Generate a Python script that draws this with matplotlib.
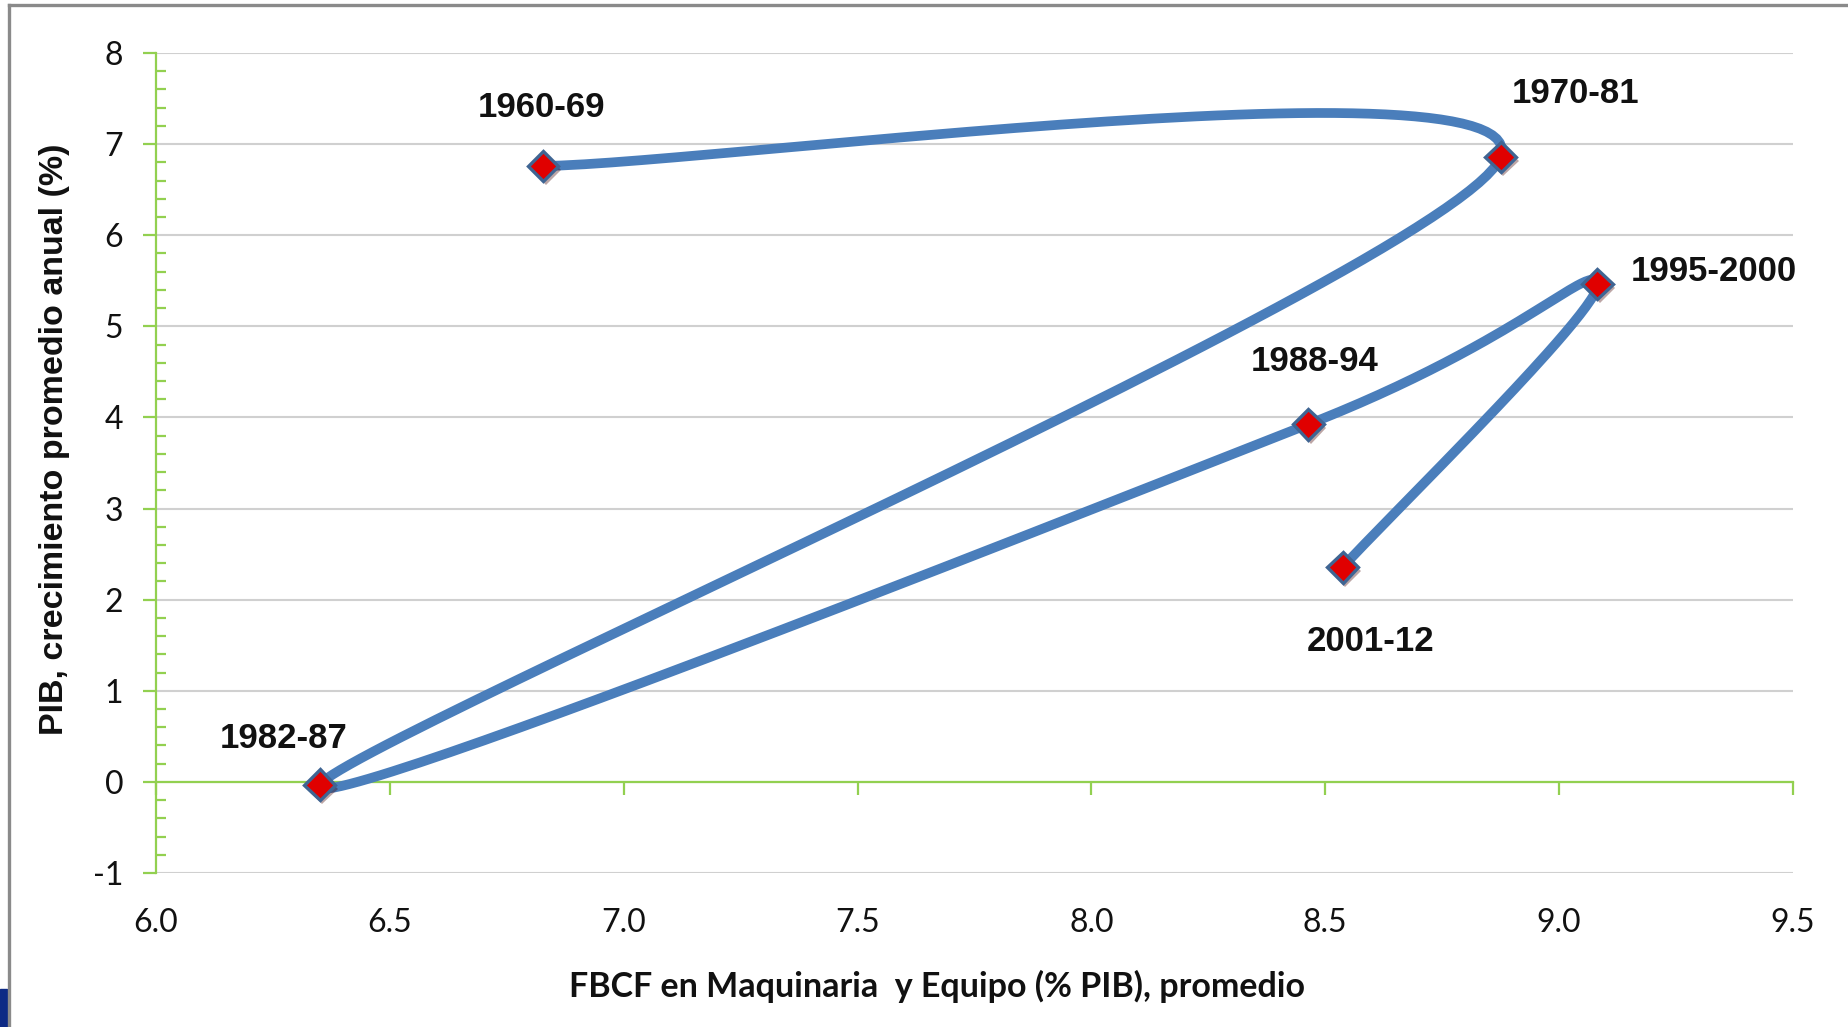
import numpy as np
import matplotlib.pyplot as plt
import matplotlib.patheffects as pe
from matplotlib.lines import Line2D
from matplotlib.patches import Rectangle
from matplotlib.ticker import MultipleLocator

# periodos y promedios: FBCF en maquinaria y equipo vs crecimiento del PIB
periodos = ['1960-69', '1970-81', '1982-87', '1988-94', '1995-2000', '2001-12']
fbcf_maq = [6.828, 8.875, 6.350, 8.464, 9.082, 8.537]
pib_crec = [6.76, 6.86, -0.03, 3.925, 5.465, 2.355]

x_ticks = [6.0, 6.5, 7.0, 7.5, 8.0, 8.5, 9.0, 9.5]
y_ticks = [-1, 0, 1, 2, 3, 4, 5, 6, 7, 8]

# desplazamiento de cada etiqueta respecto a su punto (pixeles)
desplaz = [(-2, 58), (75, 63), (-36, 46), (6, 63), (116, 12), (28, -74)]

AZUL = '#4a7ebb'
VERDE = '#92d050'
GRIS = '#d0d0d0'


def suavizar(ax, xs, ys, n=60):
    # curva tipo Excel: bezier por tramos con tangentes de Catmull-Rom,
    # calculada en pixeles para que la forma no dependa de la escala
    pts = ax.transData.transform(np.column_stack([xs, ys]))
    p = np.vstack([pts[0], pts, pts[-1]])
    t = np.linspace(0, 1, n)[:, None]
    tramos = []
    for i in range(1, len(p) - 2):
        p0, p1, p2, p3 = p[i - 1], p[i], p[i + 1], p[i + 2]
        c1 = p1 + (p2 - p0) / 6
        c2 = p2 - (p3 - p1) / 6
        tramos.append((1 - t)**3 * p1 + 3 * (1 - t)**2 * t * c1
                      + 3 * (1 - t) * t**2 * c2 + t**3 * p2)
    curva = ax.transData.inverted().transform(np.vstack(tramos))
    return curva[:, 0], curva[:, 1]


plt.rcParams['font.family'] = ['Lato', 'DejaVu Sans']

fig = plt.figure(figsize=(18.49, 10.27), dpi=100)
ax = fig.add_axes([156 / 1849, 154 / 1027, 1637 / 1849, 820 / 1027])
ax.set_xlim(6.0, 9.5)
ax.set_ylim(-1, 8)

for s in ['top', 'right']:
    ax.spines[s].set_visible(False)
ax.spines['left'].set_color(VERDE)
ax.spines['left'].set_linewidth(1.6)
ax.spines['bottom'].set_position(('data', 0))
ax.spines['bottom'].set_color(VERDE)
ax.spines['bottom'].set_linewidth(1.6)

ax.set_yticks(y_ticks)
ax.set_yticklabels([str(v) for v in y_ticks])
ax.yaxis.set_minor_locator(MultipleLocator(0.2))
ax.tick_params(axis='y', which='major', direction='out', length=9.5, width=1.6,
               color=VERDE, pad=14, labelsize=23, labelcolor='#111111')
ax.tick_params(axis='y', which='minor', direction='in', length=7.5, width=1.6,
               color=VERDE)

ax.set_xticks(x_ticks)
ax.set_xticklabels(['%.1f' % v for v in x_ticks])
ax.tick_params(axis='x', which='major', direction='out', length=9.5, width=1.6,
               color=VERDE, pad=81, labelsize=23, labelcolor='#111111')

ax.grid(axis='y', color=GRIS, linewidth=1.5)
ax.set_axisbelow(True)

xs, ys = suavizar(ax, fbcf_maq, pib_crec)
ax.plot(xs, ys, color=AZUL, linewidth=7, solid_capstyle='round', zorder=3)
ax.plot(fbcf_maq, pib_crec, linestyle='none', marker='D', markersize=15.5,
        markerfacecolor='#e00000', markeredgecolor='#3f6593',
        markeredgewidth=2.4, zorder=4,
        path_effects=[pe.SimplePatchShadow(offset=(2, -3), alpha=0.35),
                      pe.Normal()])

for nombre, x, y, (dx, dy) in zip(periodos, fbcf_maq, pib_crec, desplaz):
    ax.annotate(nombre, (x, y), xytext=(dx * 0.72, dy * 0.72),
                textcoords='offset points', ha='center', va='center',
                fontsize=25, fontweight='bold',
                family=['Liberation Sans', 'DejaVu Sans'], color='#111111',
                zorder=5)

fig.text(55 / 1849, 1 - 439 / 1027, 'PIB, crecimiento promedio anual (%)',
         rotation=90, ha='center', va='center', fontsize=24.5,
         fontweight='bold', family=['Liberation Sans', 'DejaVu Sans'],
         color='#111111')
fig.text(937 / 1849, 1 - 986 / 1027,
         'FBCF en Maquinaria  y Equipo (% PIB), promedio',
         ha='center', va='center', fontsize=24.5, fontweight='bold',
         color='#111111')

# marco gris del grafico (arriba e izquierda) y la marca azul de la esquina
fig.add_artist(Line2D([9.5 / 1849, 9.5 / 1849], [0, 1 - 5 / 1027],
                      color='#8a8a8a', linewidth=2.4))
fig.add_artist(Line2D([9.5 / 1849, 1], [1 - 5 / 1027, 1 - 5 / 1027],
                      color='#8a8a8a', linewidth=2.4))
fig.add_artist(Rectangle((0, 0), 7 / 1849, 38 / 1027, color='#0d2a85',
                         transform=fig.transFigure))

fig.savefig('out.png', dpi=100)
